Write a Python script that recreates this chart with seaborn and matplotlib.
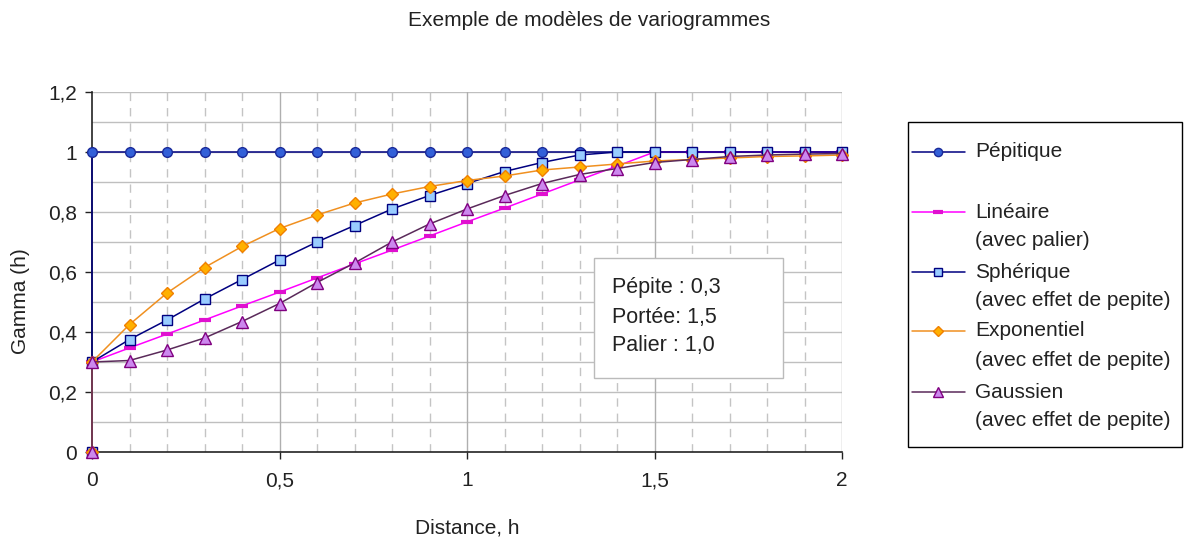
import numpy as np
import pandas as pd
import matplotlib
matplotlib.use("Agg")
import matplotlib.pyplot as plt
import seaborn as sns
from matplotlib.lines import Line2D
from matplotlib.patches import Rectangle
from matplotlib.ticker import FixedLocator, FuncFormatter

# ---------------- data ----------------
distance = [0, 0, 0.1, 0.2, 0.3, 0.4, 0.5, 0.6, 0.7, 0.8, 0.9, 1.0,
            1.1, 1.2, 1.3, 1.4, 1.5, 1.6, 1.7, 1.8, 1.9, 2.0]
pepitique = [0, 1, 1, 1, 1, 1, 1, 1, 1, 1, 1, 1,
             1, 1, 1, 1, 1, 1, 1, 1, 1, 1]
lineaire = [0, 0.3, 0.347, 0.393, 0.44, 0.487, 0.533, 0.58, 0.627, 0.673, 0.72, 0.767,
            0.813, 0.86, 0.907, 0.953, 1.0, 1.0, 1.0, 1.0, 1.0, 1.0]
spherique = [0, 0.3, 0.375, 0.44, 0.51, 0.575, 0.64, 0.70, 0.755, 0.81, 0.855, 0.895,
             0.935, 0.965, 0.99, 1.0, 1.0, 1.0, 1.0, 1.0, 1.0, 1.0]
exponentiel = [0, 0.3, 0.425, 0.53, 0.615, 0.685, 0.745, 0.79, 0.83, 0.86, 0.885, 0.905,
               0.92, 0.94, 0.95, 0.96, 0.97, 0.975, 0.98, 0.985, 0.987, 0.99]
gaussien = [0, 0.3, 0.305, 0.34, 0.38, 0.435, 0.495, 0.565, 0.63, 0.70, 0.76, 0.81,
            0.855, 0.895, 0.925, 0.945, 0.965, 0.975, 0.985, 0.99, 0.993, 0.995]

series_names = ["Pépitique", "Linéaire", "Sphérique", "Exponentiel", "Gaussien"]
series_sub = ["", "(avec palier)", "(avec effet de pepite)",
              "(avec effet de pepite)", "(avec effet de pepite)"]
series_values = [pepitique, lineaire, spherique, exponentiel, gaussien]

title = "Exemple de modèles de variogrammes"
xlabel = "Distance, h"
ylabel = "Gamma (h)"
note = "Pépite : 0,3\nPortée: 1,5\nPalier : 1,0"

# ---------------- styles ----------------
styles = [
    dict(color="#000080", marker="o", ms=7, mfc="#3360D8", mec="#1A2A99", mew=1.0),
    dict(color="#FF00FF", marker="_", ms=9, mfc="#E010D0", mec="#E010D0", mew=3.0),
    dict(color="#000080", marker="s", ms=7.5, mfc="#99CCFF", mec="#000080", mew=1.0),
    dict(color="#F09020", marker="D", ms=6.5, mfc="#FFB000", mec="#F08000", mew=1.0),
    dict(color="#5A2A5A", marker="^", ms=8.5, mfc="#CC88EE", mec="#800080", mew=1.0),
]

sns.set_theme(style="white")
plt.rcParams["font.family"] = ["Liberation Sans", "DejaVu Sans"]
FS = 15

W, H = 1186, 537
fig = plt.figure(figsize=(W / 100, H / 100), dpi=100)
fig.patch.set_facecolor("white")
ax = fig.add_axes([92 / W, 1 - 452 / H, (842 - 92) / W, (452 - 92) / H])
ax.set_facecolor("white")

# gridlines
for v in np.arange(0.1, 1.21, 0.1):
    ax.axhline(v, color="#BFBFBF", lw=1.0, zorder=0)
for i in range(1, 21):
    v = i * 0.1
    if i % 5 == 0:
        ax.axvline(v, color="#AFAFAF", lw=1.0, zorder=0)
    else:
        ax.axvline(v, color="#C4C4C4", lw=1.0, ls=(0, (6, 5)), zorder=0)

for name, vals, st in zip(series_names, series_values, styles):
    df = pd.DataFrame({"x": distance, "y": vals})
    sns.lineplot(data=df, x="x", y="y", ax=ax, estimator=None, sort=False,
                 color=st["color"], lw=1.1, marker=st["marker"], markersize=st["ms"],
                 markerfacecolor=st["mfc"], markeredgecolor=st["mec"],
                 markeredgewidth=st["mew"], zorder=3, clip_on=False)

ax.set_xlim(0, 2)
ax.set_ylim(0, 1.2)
ax.xaxis.set_major_locator(FixedLocator([0, 0.5, 1, 1.5, 2]))
ax.yaxis.set_major_locator(FixedLocator([0, 0.2, 0.4, 0.6, 0.8, 1.0, 1.2]))
fmt = FuncFormatter(lambda v, p: ("%g" % round(v, 2)).replace(".", ","))
ax.xaxis.set_major_formatter(fmt)
ax.yaxis.set_major_formatter(fmt)
ax.tick_params(axis="both", labelsize=FS, colors="#222222", length=5, width=1,
               direction="out", bottom=True, left=True)
ax.tick_params(axis="x", pad=9)
ax.tick_params(axis="y", pad=6)
for s in ["top", "right"]:
    ax.spines[s].set_visible(False)
for s in ["left", "bottom"]:
    ax.spines[s].set_color("#222222")
    ax.spines[s].set_linewidth(1.2)
ax.set_xlabel(xlabel, fontsize=FS, color="#222222", labelpad=20)
ax.set_ylabel(ylabel, fontsize=FS, color="#222222", labelpad=10)
ax.yaxis.set_label_coords(-0.082, 0.42)

fig.text(0.497, 1 - 21 / H, title, ha="center", va="center", fontsize=FS, color="#222222")

# annotation box
ax.add_patch(Rectangle(((594 - 92) / 750, (452 - 378) / 360), (783 - 594) / 750, (378 - 258) / 360,
                       transform=ax.transAxes, facecolor="white", edgecolor="#BBBBBB",
                       lw=1.0, zorder=4))
ax.text((612 - 92) / 750, (452 - 317) / 360, note, transform=ax.transAxes, ha="left",
        va="center", fontsize=FS + 0.5, color="#222222", linespacing=1.5, zorder=5)

# legend (manual)
fig.patches.append(Rectangle((908 / W, 1 - 447 / H), (1182 - 908) / W, (447 - 122) / H,
                             transform=fig.transFigure, facecolor="white",
                             edgecolor="black", lw=1.0))
rows = [152, 212, 272, 331, 392]
for name, sub, st, yr in zip(series_names, series_sub, styles, rows):
    yf = 1 - yr / H
    fig.lines.append(Line2D([912 / W, 965 / W], [yf, yf], transform=fig.transFigure,
                            color=st["color"], lw=1.1))
    fig.lines.append(Line2D([938 / W], [yf], transform=fig.transFigure, color=st["color"],
                            marker=st["marker"], markersize=st["ms"] * 0.85,
                            markerfacecolor=st["mfc"], markeredgecolor=st["mec"],
                            markeredgewidth=st["mew"], lw=0))
    fig.text(975 / W, yf, name, ha="left", va="center", fontsize=FS, color="#222222")
    if sub:
        fig.text(975 / W, 1 - (yr + 29) / H, sub, ha="left", va="center",
                 fontsize=FS, color="#222222")

fig.savefig("out.png", dpi=100, facecolor="white")
